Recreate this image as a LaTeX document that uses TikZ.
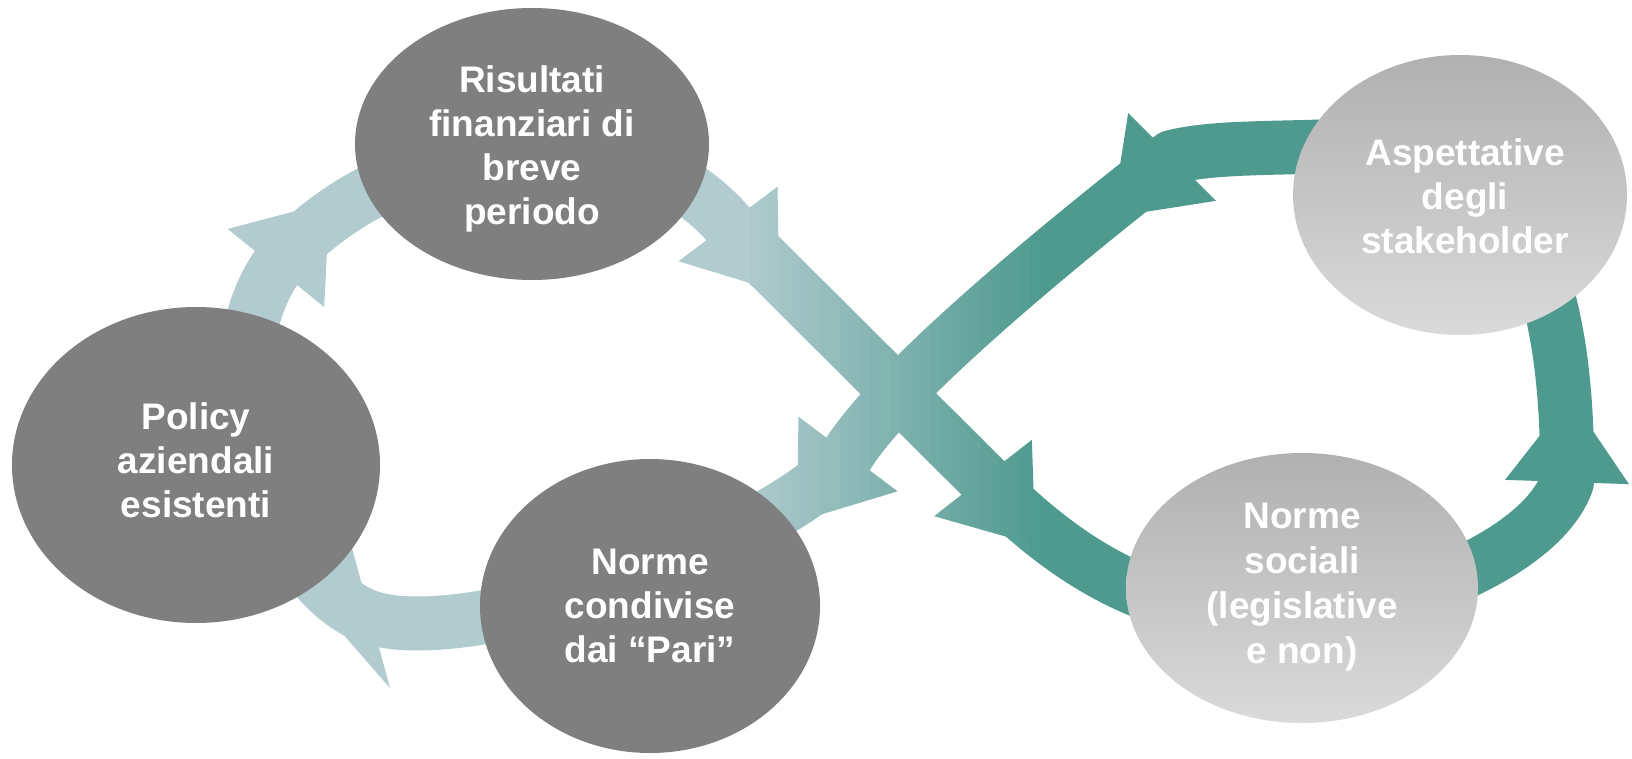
\documentclass[tikz,border=0pt]{standalone}
\usepackage{fontspec}
\setmainfont{Liberation Sans}
\usetikzlibrary{shapes.geometric}
\definecolor{lightc}{RGB}{178,203,207}
\definecolor{tealc}{RGB}{78,154,143}
\definecolor{ellgray}{RGB}{127,127,127}
\definecolor{elltop}{RGB}{176,176,176}
\definecolor{ellbot}{RGB}{218,218,218}
\newcommand\lblfont{\fontsize{18.5pt}{22pt}\selectfont\bfseries}
\newcommand\arrowhd[2]{\fill[shift={(#1)}, rotate=#2] (0,-62) -- (85,0) -- (0,62) -- cycle;}
\newcommand\drawfig[1]{%
  \draw[#1, line width=27pt, line join=round, loopline];
  \begin{scope}[fill=#1]
    \arrowhd{a1}{51}
    \arrowhd{a2}{-53}
    \arrowhd{a3}{-52}
    \arrowhd{a4}{88}
    \arrowhd{a5}{-135}
    \arrowhd{a6}{-127}
    \fill (352,548) -- (308,594) -- (390,688) -- cycle;
  \end{scope}}
\begin{document}
\begin{tikzpicture}[x=0.5pt,y=-0.5pt,
  ellbase/.style={ellipse, inner sep=0pt, outer sep=0pt},
  darkell/.style={ellbase, fill=ellgray},
  lightell/.style={ellbase, top color=elltop, bottom color=ellbot},
  lbl/.style={text=white, font=\lblfont, align=center, inner sep=0pt,
    execute at begin node=\strut, execute at end node=\strut},
  loopline/.style={insert path={(a1) .. controls (380,140) and (620,100) .. (a2) -- (a3)
    .. controls (1065,560) and (1150,620) .. (1300,620)
    .. controls (1430,600) and (1545,545) .. (a4)
    .. controls (1570,215) and (1480,138) .. (1360,145)
    .. controls (1280,149) and (1215,146) .. (a5)
    .. controls (1094,218) and (900,372) .. (a6)
    .. controls (790,535) and (480,650) .. (a7)
    .. controls (280,590) and (200,380) .. (a1) -- cycle}}]
\useasboundingbox (0,0) rectangle (1632,759);
\fill[white] (0,0) rectangle (1632,759);
\coordinate (a1) at (276,268);
\coordinate (a2) at (728,224);
\coordinate (a3) at (983,478);
\coordinate (a4) at (1567,482);
\coordinate (a5) at (1172,157);
\coordinate (a6) at (848,454);
\coordinate (a7) at (372,618);
% band with horizontal colour transition
\begin{scope}
  \clip (-10,-10) rectangle (740.6,770);
  \drawfig{lightc}
\end{scope}
\foreach \i in {0,...,29}{
  \pgfmathsetmacro\xa{740+10*\i}
  \pgfmathtruncatemacro\pc{(\i+0.5)*100/30}
  \colorlet{bandc}{tealc!\pc!lightc}
  \begin{scope}
    \clip (\xa,-10) rectangle (\xa+10.6,770);
    \drawfig{bandc}
  \end{scope}
}
\begin{scope}
  \clip (1040,-10) rectangle (1642,770);
  \drawfig{tealc}
\end{scope}
% nodes
\node[darkell, minimum width=177pt, minimum height=136pt] (ris) at (532,144) {};
\node[darkell, minimum width=184pt, minimum height=158pt] (pol) at (196,465) {};
\node[darkell, minimum width=170pt, minimum height=147pt] (ncd) at (650,606) {};
\node[lightell, minimum width=167pt, minimum height=140pt] (asp) at (1460,195) {};
\node[lightell, minimum width=176pt, minimum height=135pt] (nso) at (1302,588) {};
\node[lbl] (ris-t) at (532,152) {Risultati\\finanziari di\\breve\\periodo};
\node[lbl] (pol-t) at (196,467) {Policy\\aziendali\\esistenti};
\node[lbl] (ncd-t) at (650,612) {Norme\\condivise\\dai “Pari”};
\node[lbl] (asp-t) at (1465,203) {Aspettative\\degli\\stakeholder};
\node[lbl, font=\fontsize{18.5pt}{22.5pt}\selectfont\bfseries] (nso-t) at (1302,590) {Norme\\sociali\\(legislative\\e non)};
\end{tikzpicture}
\end{document}
